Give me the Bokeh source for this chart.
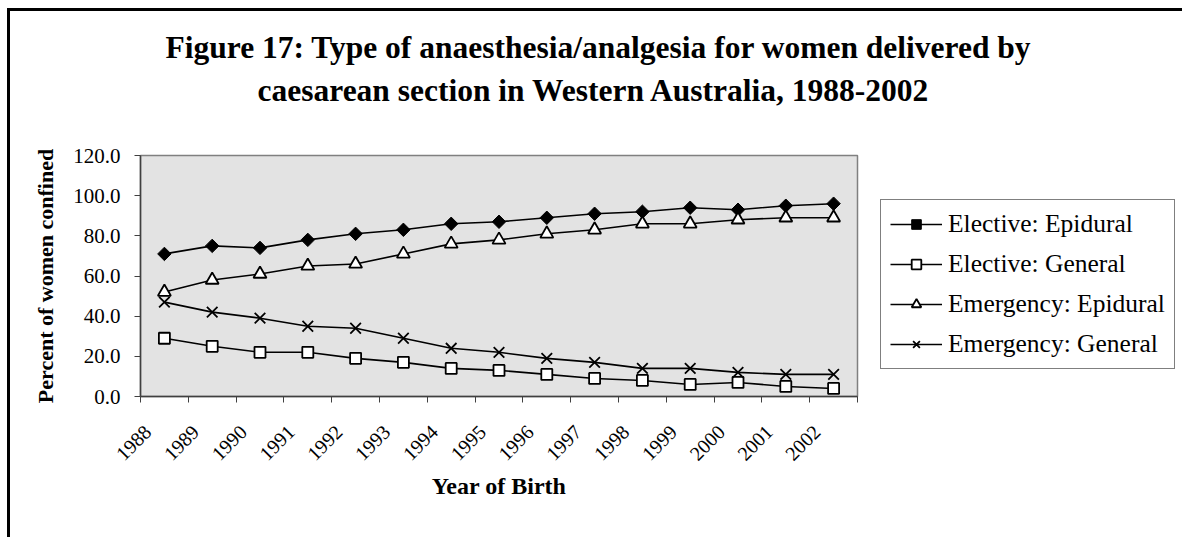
import math
from bokeh.plotting import figure
from bokeh.models import (FixedTicker, Legend, LegendItem, Title, Range1d,
                          NumeralTickFormatter)
from bokeh.embed import file_html
from bokeh.resources import INLINE

years = [str(y) for y in range(1988, 2003)]
elective_epidural = [71, 75, 74, 78, 81, 83, 86, 87, 89, 91, 92, 94, 93, 95, 96]
elective_general = [29, 25, 22, 22, 19, 17, 14, 13, 11, 9, 8, 6, 7, 5, 4]
emergency_epidural = [52, 58, 61, 65, 66, 71, 76, 78, 81, 83, 86, 86, 88, 89, 89]
emergency_general = [47, 42, 39, 35, 34, 29, 24, 22, 19, 17, 14, 14, 12, 11, 11]
y_ticks = [0, 20, 40, 60, 80, 100, 120]

title_lines = ["Figure 17: Type of anaesthesia/analgesia for women delivered by",
               "caesarean section in Western Australia, 1988-2002"]

xs = [i + 0.5 for i in range(len(years))]
label_pos = [x - 0.35 for x in xs]
SERIF = "Liberation Serif"

p = figure(frame_width=717, frame_height=241,
           min_border_left=130, min_border_right=325,
           min_border_top=144, min_border_bottom=141,
           x_range=Range1d(0, len(years)), y_range=Range1d(0, 120),
           output_backend="svg", toolbar_location=None)
p.styles = {"border-top": "3px solid black", "border-left": "3px solid black",
            "margin-left": "7px", "margin-top": "8px"}

p.background_fill_color = "#E3E3E3"
p.border_fill_color = "white"
p.outline_line_color = "#808080"
p.outline_line_width = 1.5
p.xgrid.visible = False
p.ygrid.visible = False

# x axis: ticks between categories, labels near centers
xa = p.xaxis[0]
xa.ticker = FixedTicker(ticks=label_pos, minor_ticks=list(range(len(years) + 1)))
xa.major_label_overrides = {x: y for x, y in zip(label_pos, years)}
xa.major_tick_line_color = None
xa.minor_tick_in = 0
xa.minor_tick_out = 6
xa.minor_tick_line_color = "#404040"
xa.axis_line_color = "#404040"
xa.axis_line_width = 1.5
xa.major_label_orientation = math.pi / 4
xa.major_label_text_font = SERIF
xa.major_label_text_font_size = "20px"
xa.major_label_text_color = "black"
xa.major_label_standoff = 26
xa.axis_label = "Year of Birth"
xa.axis_label_text_font = SERIF
xa.axis_label_text_font_style = "bold"
xa.axis_label_text_font_size = "24px"
xa.axis_label_text_color = "black"
xa.axis_label_standoff = 3

ya = p.yaxis[0]
ya.ticker = FixedTicker(ticks=y_ticks)
ya.formatter = NumeralTickFormatter(format="0.0")
ya.major_tick_in = 0
ya.major_tick_out = 6
ya.minor_tick_line_color = None
ya.major_tick_line_color = "#404040"
ya.axis_line_color = "#404040"
ya.axis_line_width = 1.5
ya.major_label_text_font = SERIF
ya.major_label_text_font_size = "21px"
ya.major_label_text_color = "black"
ya.major_label_standoff = 14
ya.axis_label = "Percent of women confined"
ya.axis_label_text_font = SERIF
ya.axis_label_text_font_style = "bold"
ya.axis_label_text_font_size = "22px"
ya.axis_label_text_color = "black"
ya.axis_label_standoff = 12

lw = 1.6
items = []

l1 = p.line(xs, elective_epidural, line_color="black", line_width=lw)
m1 = p.scatter(xs, elective_epidural, marker="square", angle=math.pi / 4, size=9.5,
               fill_color="black", line_color="black", line_width=1)
items.append(LegendItem(label="Elective: Epidural", renderers=[l1, m1]))

l2 = p.line(xs, elective_general, line_color="black", line_width=lw)
m2 = p.scatter(xs, elective_general, marker="square", size=11,
               fill_color="white", line_color="black", line_width=1.8)
items.append(LegendItem(label="Elective: General", renderers=[l2, m2]))

l3 = p.line(xs, emergency_epidural, line_color="black", line_width=lw)
m3 = p.scatter(xs, emergency_epidural, marker="triangle", size=13,
               fill_color="white", line_color="black", line_width=1.8)
items.append(LegendItem(label="Emergency: Epidural", renderers=[l3, m3]))

l4 = p.line(xs, emergency_general, line_color="black", line_width=lw)
m4 = p.scatter(xs, emergency_general, marker="x", size=15,
               line_color="black", line_width=1.8)
items.append(LegendItem(label="Emergency: General", renderers=[l4, m4]))

legend = Legend(items=items, location=(23, 27))
legend.label_text_font = SERIF
legend.label_text_font_size = "25.5px"
legend.label_text_color = "black"
legend.label_height = 24
legend.glyph_height = 24
legend.glyph_width = 52
legend.label_standoff = 6
legend.spacing = 10
legend.padding = 9
legend.margin = 0
legend.border_line_color = "black"
legend.border_line_width = 1
legend.background_fill_color = "white"
p.add_layout(legend, "right")

# spacer nearest the plot, then second title line, then first line above it
p.add_layout(Title(text=" ", standoff=42, text_font_size="1px"), "above")
p.add_layout(Title(text=title_lines[1], align="left", offset=117, standoff=6,
                   text_font=SERIF, text_font_style="bold", text_font_size="31.5px",
                   text_color="black"), "above")
p.add_layout(Title(text=title_lines[0], align="left", offset=25, standoff=5,
                   text_font=SERIF, text_font_style="bold", text_font_size="31.5px",
                   text_color="black"), "above")

open("out.html", "w").write(file_html(p, INLINE))
